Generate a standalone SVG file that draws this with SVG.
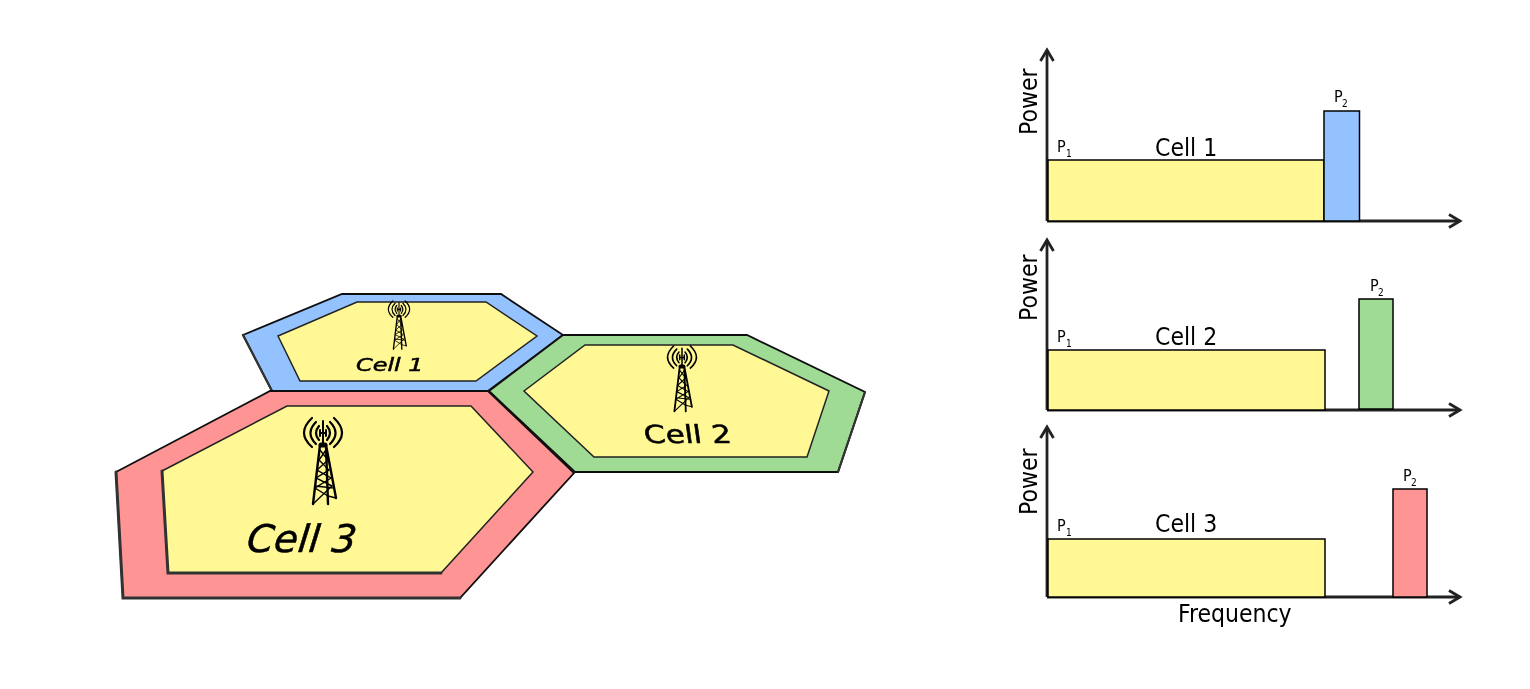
<svg xmlns="http://www.w3.org/2000/svg" width="1530" height="689" viewBox="0 0 1530 689">
<style>
text{font-family:"DejaVu Sans","Liberation Sans",sans-serif;fill:#000}
.cell{stroke:#111;stroke-width:1.8;stroke-linejoin:miter}
.in{fill:#fff894;stroke:#222;stroke-width:1.5}
.edge{fill:none;stroke:#333;stroke-width:3;stroke-linecap:round}
.blue{fill:#94c2ff}.green{fill:#9fdb95}.red{fill:#ff9494}.yel{fill:#fff894}
.bar{stroke:#000;stroke-width:1.5}
.axis{fill:none;stroke:#222;stroke-width:2.8;marker-end:url(#arrow)}
.l{font-size:24.500px;font-stretch:condensed}.p{font-size:16px;font-stretch:condensed}.s{font-size:10px;font-stretch:condensed}
.bold{stroke:#000;stroke-width:.5}
.tower path{fill:none;stroke:#000;stroke-linecap:round}
.soft{filter:url(#soft)}
</style>
<defs>
<filter id="soft" x="-2%" y="-2%" width="104%" height="104%"><feGaussianBlur stdDeviation="0.35"/></filter>
<marker id="arrow" markerUnits="userSpaceOnUse" markerWidth="16" markerHeight="18" refX="13" refY="8" orient="auto">
<path d="M2,1.500 L13,8 L2,14.500" fill="none" stroke="#222" stroke-width="2.800"/>
</marker>
<g id="tower" class="tower">
<path stroke-width="2.200" d="M-11,0Q-27,15 -11,29M-7,4Q-18,15 -7,26M-4,8Q-10,15 -4,22M11,0Q27,15 11,29M7,4Q18,15 7,26M4,8Q10,15 4,22"/>
<path stroke-width="2" d="M0,3V25M-3,15H3M-3,12V18M3,12V18"/>
<path stroke-width="2.400" d="M-3,27L-10,86M3,27L5,86M3,27L13,80"/>
<path stroke-width="1.400" d="M-3,32L5,42L-6,52L8,60L-8,70L5,78M3,32L-4,42L6,52L-7,60L9,68L-10,86M-8,68L11,70M5,78L13,80"/>
<path stroke-width="5" d="M-2,27H2"/>
</g>
</defs>

<g id="cell1" class="soft">
<polygon class="cell blue" points="243,335 342,294 501,294 563,335 488,391 272,391"/>
<path class="edge" d="M243,335L272,391" style="stroke-width:2.200"/>
<polygon class="in" points="278,336 357,302 486,302 537,336 476,381 300,381"/>
<use href="#tower" transform="translate(399,301) scale(.56)"/>
<text class="bold" font-size="18" font-style="italic" transform="translate(356,371) scale(1.33,1)">Cell 1</text>
</g>

<g id="cell2" class="soft">
<polygon class="cell green" points="563,335 747,335 865,392 838,472 575,472 489,391"/>
<path class="edge" d="M865,392L838,472" style="stroke-width:2.200"/>
<polygon class="in" points="585,345 733,345 829,391 807,457 594,457 524,391"/>
<use href="#tower" transform="translate(682,346) scale(.76)"/>
<text class="bold" font-size="25" transform="translate(645,443) skewX(8) scale(1.24,1)">Cell 2</text>
</g>

<g id="cell3" class="soft">
<polygon class="cell red" points="116,472 270,391 488,391 574,473 460,598 123,598"/>
<path class="edge" d="M116,472L123,598H460"/>
<polygon class="in" points="162,471 287,406 471,406 533,472 441,573 168,573"/>
<path class="edge" d="M162,471L168,573H441"/>
<use href="#tower" transform="translate(323,418)"/>
<text class="bold" font-size="38" font-style="italic" transform="translate(246,552) skewX(-6) scale(1.02,1)">Cell 3</text>
</g>

<g id="connectors" class="soft">
<path class="axis" d="M1047,221V50"/>
<path class="axis" d="M1047,221H1460"/>
<path class="axis" d="M1047,410V240"/>
<path class="axis" d="M1047,410H1460"/>
<path class="axis" d="M1047,597V427"/>
<path class="axis" d="M1047,597H1460"/>
</g>

<g id="chart1" class="soft">
<rect class="bar yel" x="1048" y="160" width="276" height="61"/>
<rect class="bar blue" x="1324" y="111" width="35.500" height="110"/>
<text class="l" transform="translate(1037,135) rotate(-90)">Power</text>
<text class="l" x="1155" y="156">Cell 1</text>
<text class="p" x="1057" y="152">P</text><text class="s" x="1066" y="157">1</text>
<text class="p" x="1334" y="102">P</text><text class="s" x="1342" y="107">2</text>
</g>

<g id="chart2" class="soft">
<rect class="bar yel" x="1048" y="350" width="277" height="60"/>
<rect class="bar green" x="1359" y="299" width="34" height="110"/>
<text class="l" transform="translate(1037,321) rotate(-90)">Power</text>
<text class="l" x="1155" y="345">Cell 2</text>
<text class="p" x="1057" y="342">P</text><text class="s" x="1066" y="347">1</text>
<text class="p" x="1370" y="291">P</text><text class="s" x="1378" y="296">2</text>
</g>

<g id="chart3" class="soft">
<rect class="bar yel" x="1048" y="539" width="277" height="58"/>
<rect class="bar red" x="1393" y="489" width="34" height="108"/>
<text class="l" transform="translate(1037,515) rotate(-90)">Power</text>
<text class="l" x="1155" y="532">Cell 3</text>
<text class="p" x="1057" y="531">P</text><text class="s" x="1066" y="536">1</text>
<text class="p" x="1403" y="481">P</text><text class="s" x="1411" y="486">2</text>
<text class="l" x="1178" y="622">Frequency</text>
</g>
</svg>
